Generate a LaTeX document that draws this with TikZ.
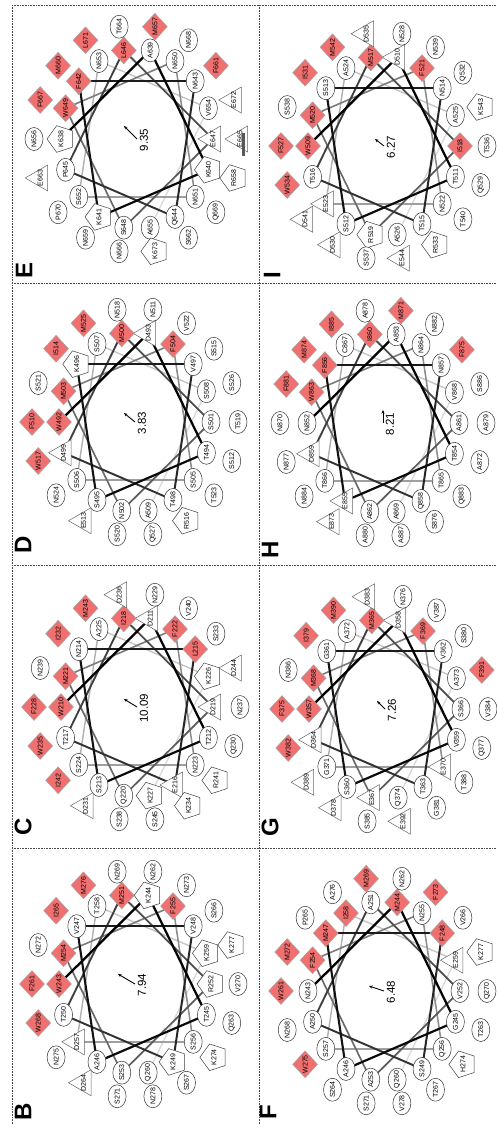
\documentclass[tikz,border=0pt]{standalone}
\usepackage{fontspec}
\setmainfont{Liberation Sans}
\usetikzlibrary{shapes.geometric,arrows.meta}
\definecolor{dred}{RGB}{240,112,112}
\tikzset{
 lb/.style={font=\fontsize{7}{8}\selectfont, rotate=90, inner sep=0pt, line width=0.5pt},
 rc/.style={lb, ellipse, draw=black!80, fill=white, minimum width=23pt, minimum height=18pt},
 rd/.style={lb, diamond, draw=black!35, fill=dred, minimum width=27pt, minimum height=25pt},
 rp/.style={lb, regular polygon, regular polygon sides=5, draw=black!75, fill=white, minimum size=28pt},
 rt/.style={lb, regular polygon, regular polygon sides=3, draw=black!60, fill=white, minimum size=30pt},
 marrow/.style={-{Stealth[length=3.5pt,width=3pt]}, line width=0.9pt},
 mval/.style={font=\fontsize{11.5}{12}\selectfont, rotate=90},
 lett/.style={font=\fontsize{24}{24}\selectfont\bfseries, rotate=90},
 frame/.style={densely dotted, black!70, line width=0.6pt},
}
\newcommand{\hwheel}[7]{%
 \begin{scope}[shift={(#2,#3)}]
  \foreach \lab/\typ [count=\k from 0] in {#4}{%
    \pgfmathsetmacro{\ang}{180-100*\k}%
    \ifnum\k<18 \def\rx{76}\def\ry{90}\else\def\rx{103}\def\ry{114}\fi
    \coordinate (#1-c\k) at ({\rx*cos(\ang)},{-\ry*sin(\ang)});
  }
  \foreach \k in {16,15,...,0}{%
    \pgfmathtruncatemacro{\kk}{\k+1}%
    \pgfmathsetmacro{\pct}{100-85*(\k/16)*sqrt(\k/16)}%
    \pgfmathsetmacro{\lw}{2.3-1.0*\k/16}%
    \draw[line width=\lw pt, draw=black!\pct] (#1-c\k) -- (#1-c\kk);
  }
  \foreach \lab/\typ [count=\k from 0] in {#4}{%
    \node[r\typ] (#1-n\k) at (#1-c\k) {\makebox[0pt]{\lab}};
  }
  \coordinate (#1-o) at (0,0);
  \coordinate (#1-h) at (#5,#6);
  \draw[marrow] (#1-o) -- (#1-h);
  \node[mval] (#1-v) at (7,1) {#7};
 \end{scope}}
\begin{document}
\begin{tikzpicture}[x=1pt,y=-1pt]
\useasboundingbox (0,0) rectangle (497,1125);
\fill[white] (0,0) rectangle (497,1125);
% frames
\draw[frame] (12,5) -- (497,5);
\draw[frame] (12,283) -- (497,283);
\draw[frame] (12,565) -- (497,565);
\draw[frame] (12,848) -- (497,848);
\draw[frame] (12,5) -- (12,1125);
\draw[frame] (259,5) -- (259,1125);
% B
\hwheel{B}{135}{984}{W243/d, K244/p, T245/c, A246/c, V247/c, V248/c, K249/p, T250/c, M251/d, R252/p, S253/c, M254/d, F255/d, S256/c, D257/t, T258/c, K259/p, Q260/c, F261/d, N262/c, Q263/c, D264/t, I265/d, S266/c, S267/c, W268/d, N269/c, V270/c, S271/c, N272/c, N273/c, K274/p, N275/c, M276/d, K277/p, N278/c}{-17}{-10}{7.94}
% C
\hwheel{C}{137}{707}{W210/d, D211/t, T212/c, S213/c, N214/c, L215/d, E216/t, T217/c, I218/d, D219/t, Q220/c, M221/d, F222/d, N223/c, S224/c, A225/c, K226/p, K227/p, F228/d, N229/c, Q230/c, D231/t, I232/d, S233/c, K234/p, W235/d, D236/t, N237/c, S238/c, N239/c, V240/c, R241/p, I242/d, M243/d, D244/t, S245/c}{-13}{-8}{10.09}
% D
\hwheel{D}{135}{422}{W492/d, D493/t, T494/c, S495/c, K496/p, V497/c, T498/c, D499/t, M500/d, S501/c, N502/c, M503/d, F504/d, S505/c, S506/c, S507/c, S508/c, A509/c, F510/d, N511/c, S512/c, E513/t, I514/d, S515/c, R516/p, W517/d, N518/c, T519/c, S520/c, S521/c, V522/c, T523/c, N524/c, M525/d, S526/c, Q527/c}{-11}{-9}{3.83}
% E
\hwheel{E}{137}{139}{K638/p, A639/c, K640/p, K641/p, F642/d, N643/c, Q644/c, P645/c, L646/d, E647/t, S648/c, W649/d, N650/c, N651/c, S652/c, N653/c, V654/c, A655/c, N656/c, M657/d, R658/p, N659/c, M660/d, F661/d, S662/c, E663/t, T664/c, E665/t, N666/c, F667/d, N668/c, Q669/c, P670/c, L671/d, E672/t, K673/p}{-13}{-13}{9.35}
% F
\hwheel{F}{384}{991}{N243/c, M244/d, G245/c, A246/c, M247/d, F248/d, S249/c, A250/c, A251/c, V252/c, A253/c, F254/d, N255/c, Q256/c, S257/c, I258/d, E259/t, Q260/c, W261/d, N262/c, T263/c, S264/c, P265/c, V266/c, T267/c, N268/c, M269/d, Q270/c, S271/c, M272/d, F273/d, H274/p, W275/d, A276/c, K277/p, V278/c}{-15}{-5}{6.48}
% G
\hwheel{G}{385}{709}{W357/d, D358/t, V359/c, S360/c, G361/c, V362/c, T363/c, D364/t, M365/d, S366/c, E367/t, M368/d, F369/d, E370/t, G371/c, A372/c, A373/c, Q374/c, F375/d, N376/c, Q377/c, D378/t, I379/d, S380/c, G381/c, W382/d, D383/t, V384/c, S385/c, N386/c, V387/c, T388/c, D389/t, M390/d, F391/d, E392/t}{-8}{-8}{7.26}
% H
\hwheel{H}{383}{423}{N852/c, A853/c, T854/c, E855/t, F856/d, N857/c, Q858/c, D859/t, I860/d, A861/c, A862/c, W863/d, N864/c, T865/c, T866/c, C867/c, V868/c, A869/c, N870/c, M871/d, A872/c, E873/t, M874/d, F875/d, S876/c, N877/c, A878/c, A879/c, A880/c, F881/d, N882/c, Q883/c, N884/c, I885/d, S886/c, A887/c}{0}{-13}{8.21}
% I
\hwheel{I}{384}{146}{W509/d, D510/t, T511/c, S512/c, S513/c, N514/c, T515/c, T516/c, M517/d, I518/d, R519/p, M520/d, F521/d, N522/c, E523/t, A524/c, A525/c, A526/c, F527/d, N528/c, Q529/c, D530/t, I531/d, Q532/c, R533/p, W534/d, D535/t, T536/c, S537/c, S538/c, N539/c, T540/c, D541/t, M542/d, K543/p, E544/t}{-9}{-7}{6.27}
% bar next to E665
\fill[black!65] (242,133) rectangle (245,156);
% panel letters
\node[lett] (LB) at (23,1112) {B};
\node[lett] (LC) at (23,827) {C};
\node[lett] (LD) at (23,545) {D};
\node[lett] (LE) at (24,270) {E};
\node[lett] (LF) at (268,1112) {F};
\node[lett] (LG) at (270,827) {G};
\node[lett] (LH) at (270,550) {H};
\node[lett] (LI) at (272,275) {I};
\end{tikzpicture}
\end{document}
